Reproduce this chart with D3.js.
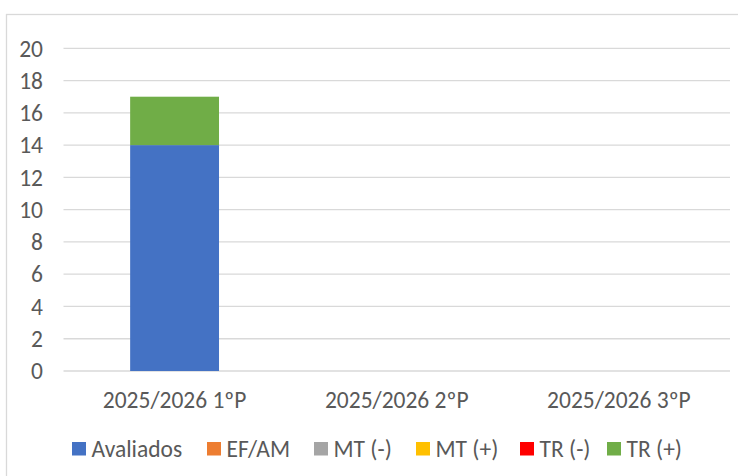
<!DOCTYPE html>
<html>
<head>
<meta charset="utf-8">
<script src="https://cdn.jsdelivr.net/npm/d3@7"></script>
<style>
  body { margin: 0; background: #fff; }
  text { font-family: Calibri, Carlito, Lato, sans-serif; fill: #595959; }
</style>
</head>
<body>
<div id="chart"></div>
<script>
// data
var categories = ["2025/2026 1ºP", "2025/2026 2ºP", "2025/2026 3ºP"];
var seriesNames = ["Avaliados", "EF/AM", "MT (-)", "MT (+)", "TR (-)", "TR (+)"];
var seriesColors = ["#4472C4", "#ED7D31", "#A5A5A5", "#FFC000", "#FF0000", "#70AD47"];
var avaliados = [14, 0, 0];
var efam = [0, 0, 0];
var mtMinus = [0, 0, 0];
var mtPlus = [0, 0, 0];
var trMinus = [0, 0, 0];
var trPlus = [3, 0, 0];
var yTicks = [0, 2, 4, 6, 8, 10, 12, 14, 16, 18, 20];

var width = 738, height = 476;
var margin = {left: 63.5, right: 8, top: 48.3, bottom: 105};
var fontSize = "23.5px";

var svg = d3.select("#chart").append("svg")
    .attr("width", width)
    .attr("height", height);

// chart frame
svg.append("rect")
    .attr("x", 6.5).attr("y", 14.5)
    .attr("width", 740).attr("height", 470)
    .attr("fill", "none")
    .attr("stroke", "#D9D9D9")
    .attr("stroke-width", 1.3);

var x = d3.scaleBand()
    .domain(categories)
    .range([margin.left, width - margin.right])
    .paddingInner(0.6)
    .paddingOuter(0.3);

var y = d3.scaleLinear()
    .domain([0, 20])
    .range([371, margin.top]);

// gridlines
svg.append("g").selectAll("line")
    .data(yTicks).enter().append("line")
    .attr("x1", margin.left).attr("x2", width - margin.right)
    .attr("y1", function(d) { return y(d); })
    .attr("y2", function(d) { return y(d); })
    .attr("stroke", "#D9D9D9")
    .attr("stroke-width", 1.3);

// y axis labels
svg.append("g").selectAll("text")
    .data(yTicks).enter().append("text")
    .attr("x", 43)
    .attr("y", function(d) { return y(d); })
    .attr("dy", "0.35em")
    .attr("text-anchor", "end")
    .style("font-size", fontSize)
    .text(function(d) { return d; });

// stacked bars
var table = categories.map(function(c, i) {
    return {cat: c, s0: avaliados[i], s1: efam[i], s2: mtMinus[i], s3: mtPlus[i], s4: trMinus[i], s5: trPlus[i]};
});
var keys = ["s0", "s1", "s2", "s3", "s4", "s5"];
var stack = d3.stack().keys(keys)(table);

svg.append("g").selectAll("g")
    .data(stack).enter().append("g")
    .attr("fill", function(d, i) { return seriesColors[i]; })
    .selectAll("rect")
    .data(function(d) { return d; }).enter().append("rect")
    .attr("x", function(d) { return x(d.data.cat); })
    .attr("width", x.bandwidth())
    .attr("y", function(d) { return y(d[1]); })
    .attr("height", function(d) { return y(d[0]) - y(d[1]); });

// category labels
svg.append("g").selectAll("text")
    .data(categories).enter().append("text")
    .attr("x", function(d) { return x(d) + x.bandwidth() / 2; })
    .attr("y", 399.5)
    .attr("dy", "0.35em")
    .attr("text-anchor", "middle")
    .style("font-size", fontSize)
    .text(function(d) { return d; });

// legend
var legendX = [72, 207, 314, 416, 520, 607];
var legend = svg.append("g").selectAll("g")
    .data(seriesNames).enter().append("g")
    .attr("transform", function(d, i) { return "translate(" + legendX[i] + ",442)"; });

legend.append("rect")
    .attr("width", 14).attr("height", 13.5)
    .attr("fill", function(d, i) { return seriesColors[i]; });

legend.append("text")
    .attr("x", 19.5)
    .attr("y", 6.7)
    .attr("dy", "0.35em")
    .style("font-size", fontSize)
    .text(function(d) { return d; });
</script>
</body>
</html>
